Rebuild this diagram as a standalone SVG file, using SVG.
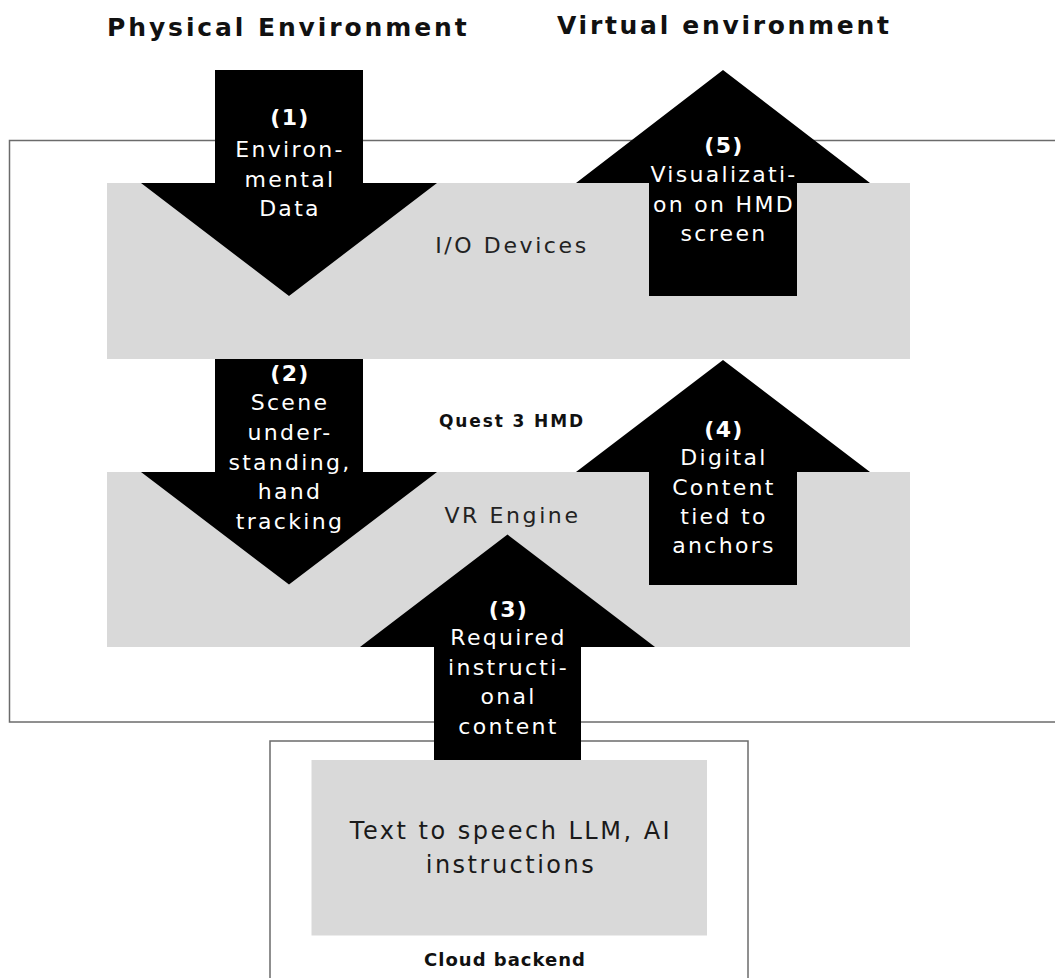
<svg xmlns="http://www.w3.org/2000/svg" width="1055" height="978" viewBox="0 0 1055 978">
<style>
  .frame { fill: none; stroke: #6b6b6b; stroke-width: 1.5; }
  .panel { fill: #d9d9d9; }
  .arrow { fill: #000000; }
  .hdr { font-family: "DejaVu Sans", "Liberation Sans", sans-serif; font-weight: bold; font-size: 25px; fill: #111111; }
  .lbl { font-family: "DejaVu Sans", "Liberation Sans", sans-serif; font-size: 22px; fill: #222222; letter-spacing: 2.6px; text-anchor: middle; }
  .sub { font-family: "DejaVu Sans", "Liberation Sans", sans-serif; font-weight: bold; font-size: 17px; fill: #111111; letter-spacing: 1.9px; text-anchor: middle; }
  .num { font-family: "DejaVu Sans", "Liberation Sans", sans-serif; font-weight: bold; font-size: 22px; fill: #ffffff; letter-spacing: 1.3px; text-anchor: middle; }
  .atx { font-family: "DejaVu Sans", "Liberation Sans", sans-serif; font-size: 22px; fill: #ffffff; letter-spacing: 2.3px; text-anchor: middle; }
  .big { font-family: "DejaVu Sans", "Liberation Sans", sans-serif; font-size: 24px; fill: #1a1a1a; letter-spacing: 2.5px; text-anchor: middle; }
  .cld { font-family: "DejaVu Sans", "Liberation Sans", sans-serif; font-weight: bold; font-size: 18px; fill: #111111; letter-spacing: 1px; text-anchor: middle; }
</style>

<g id="headers">
  <text class="hdr" x="107" y="36" style="letter-spacing:2.9px">Physical Environment</text>
  <text class="hdr" x="557" y="33.5" style="letter-spacing:2.7px">Virtual environment</text>
</g>

<g id="quest3-hmd">
  <rect class="frame" x="9.5" y="140.5" width="1060" height="581.5"/>
  <text class="sub" x="512" y="427">Quest 3 HMD</text>
</g>

<g id="cloud-backend">
  <rect class="frame" x="270" y="741" width="478" height="260"/>
  <text class="cld" x="505" y="966">Cloud backend</text>
</g>

<g id="io-devices">
  <rect class="panel" x="107" y="183" width="803" height="176"/>
  <text class="lbl" x="512" y="253">I/O Devices</text>
</g>

<g id="vr-engine">
  <rect class="panel" x="107" y="472" width="803" height="175"/>
  <text class="lbl" x="512.5" y="523">VR Engine</text>
</g>

<g id="llm">
  <rect class="panel" x="311.5" y="760" width="395.5" height="175.5"/>
  <text class="big" x="511" y="838.5">Text to speech LLM, AI</text>
  <text class="big" x="511" y="872.5">instructions</text>
</g>

<g id="connectors">
  <polygon id="arrow1" class="arrow" points="215,70 363,70 363,183 437,183 289,296 141,183 215,183"/>
  <polygon id="arrow2" class="arrow" points="215,359 363,359 363,472 437,472 289,584.5 141,472 215,472"/>
  <polygon id="arrow3" class="arrow" points="507.5,534.5 655,647 581,647 581,760 434,760 434,647 360,647"/>
  <polygon id="arrow4" class="arrow" points="723,360 870,472 797,472 797,585 649,585 649,472 576,472"/>
  <polygon id="arrow5" class="arrow" points="723,70 870,183 797,183 797,296 649,296 649,183 576,183"/>

  <g id="label1">
    <text class="num" x="290" y="125">(1)</text>
    <text class="atx" x="290" y="156.5">Environ-</text>
    <text class="atx" x="290" y="186.5">mental</text>
    <text class="atx" x="290" y="216">Data</text>
  </g>
  <g id="label2">
    <text class="num" x="290" y="381">(2)</text>
    <text class="atx" x="290" y="410">Scene</text>
    <text class="atx" x="290" y="440">under-</text>
    <text class="atx" x="290" y="470">standing,</text>
    <text class="atx" x="290" y="499">hand</text>
    <text class="atx" x="290" y="529">tracking</text>
  </g>
  <g id="label3">
    <text class="num" x="508.5" y="617">(3)</text>
    <text class="atx" x="508.5" y="645">Required</text>
    <text class="atx" x="508.5" y="675">instructi-</text>
    <text class="atx" x="508.5" y="704">onal</text>
    <text class="atx" x="508.5" y="733.5">content</text>
  </g>
  <g id="label4">
    <text class="num" x="724" y="437">(4)</text>
    <text class="atx" x="724" y="465">Digital</text>
    <text class="atx" x="724" y="495">Content</text>
    <text class="atx" x="724" y="524">tied to</text>
    <text class="atx" x="724" y="553">anchors</text>
  </g>
  <g id="label5">
    <text class="num" x="724" y="153">(5)</text>
    <text class="atx" x="724" y="182">Visualizati-</text>
    <text class="atx" x="724" y="212">on on HMD</text>
    <text class="atx" x="724" y="241">screen</text>
  </g>
</g>
</svg>
